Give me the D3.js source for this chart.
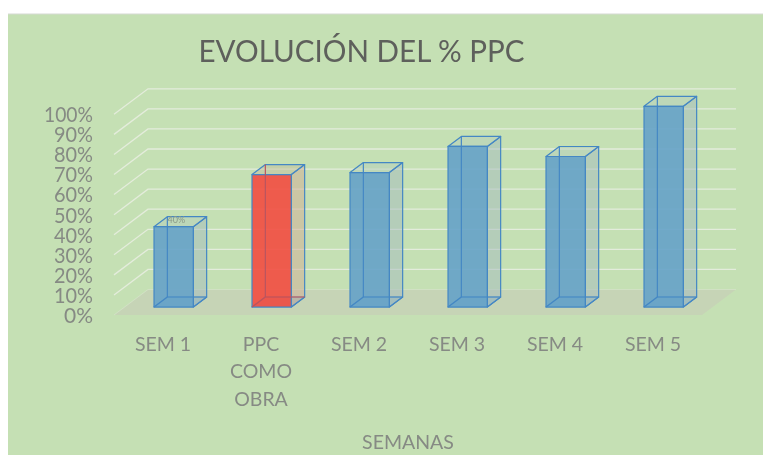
<!DOCTYPE html>
<html><head><meta charset="utf-8">
<script src="https://cdn.jsdelivr.net/npm/d3@7/dist/d3.min.js"></script>
<style>html,body{margin:0;padding:0;background:#fff}svg{display:block;filter:blur(0.35px)}text{font-family:Lato,"Noto Sans",sans-serif}</style>
</head><body><svg id="c" width="763" height="455"></svg>
<script>
const categories = [["SEM 1"],["PPC","COMO","OBRA"],["SEM 2"],["SEM 3"],["SEM 4"],["SEM 5"]];
const values = [0.40,0.66,0.67,0.80,0.75,1.00];
const highlighted = [false,true,false,false,false,false];
const yTicks = [0,0.1,0.2,0.3,0.4,0.5,0.6,0.7,0.8,0.9,1];
const dataLabels = ["40%",null,null,null,null,null];
const title = "EVOLUCIÓN DEL % PPC";
const xTitle = "SEMANAS";

const svg = d3.select("#c");
svg.append("rect").attr("x",8).attr("y",14).attr("width",755).attr("height",441).attr("fill","#C5E0B4");
svg.append("line").attr("x1",8).attr("x2",763).attr("y1",14).attr("y2",14).attr("stroke","#D5D9D2").attr("stroke-width",1);

const x = d3.scaleBand().domain(d3.range(categories.length)).range([114,702]);
const y = d3.scaleLinear().domain([0,1]).range([315,114.3]);
const D = {dx:34, dy:-25.5};                  // full floor depth
const barW = 39.3, f0 = 8/25.5, f1 = 18/25.5; // front/back plane of the boxes
const poly = p => p.map(q=>q.join(",")).join(" ");

// floor and gridlines
const g = svg.append("g");
g.append("polygon").attr("points",poly([[114,315],[702,315],[736,289.5],[148,289.5]])).attr("fill","#C6D4B6");
yTicks.forEach(t=>{
  g.append("polyline").attr("fill","none").attr("stroke","#E4ECDC").attr("stroke-width",t===0?0.8:1.3)
   .attr("opacity",t===0?0.5:1)
   .attr("points",poly([[114,y(t)],[114+D.dx,y(t)+D.dy],[736,y(t)+D.dy]]));
});

// bars
const stroke = "#4487C4";
values.forEach((v,i)=>{
  const left = x(i)+(x.bandwidth()-barW)/2;
  const P = (bx,val,f)=>[left+bx*barW+D.dx*f, y(val)+D.dy*f];
  const b = svg.append("g").attr("stroke",stroke).attr("stroke-width",1.2).attr("stroke-linejoin","round");
  const hot = highlighted[i];
  b.append("polygon").attr("points",poly([P(0,0,f0),P(1,0,f0),P(1,0,f1),P(0,0,f1)])).attr("fill","#5C9CC8").attr("fill-opacity",0.35);
  b.append("polygon").attr("points",poly([P(1,0,f0),P(1,0,f1),P(1,v,f1),P(1,v,f0)])).attr("fill",hot?"#D1AC94":"#A3BABE").attr("fill-opacity",0.5);
  b.append("polygon").attr("points",poly([P(0,v,f0),P(1,v,f0),P(1,v,f1),P(0,v,f1)])).attr("fill",hot?"#C3BE9C":"#B5CEBC").attr("fill-opacity",0.5);
  b.append("polygon").attr("points",poly([P(0,0,f0),P(1,0,f0),P(1,v,f0),P(0,v,f0)])).attr("fill",hot?"#F24C40":"#65A2C8").attr("fill-opacity",0.9);
  // hidden edges seen through the front face
  const hid = hot ? "#B9555F" : stroke;
  b.append("line").attr("stroke",hid).attr("x1",P(0,0,f1)[0]).attr("y1",P(0,0,f1)[1]).attr("x2",P(0,v,f1)[0]).attr("y2",P(0,v,f1)[1]);
  b.append("polyline").attr("fill","none").attr("stroke",hid).attr("points",poly([P(0,0,f0),P(0,0,f1),P(1,0,f1)]));
  if (dataLabels[i]) {
    const c = P(0.5,v,(f0+f1)/2);
    svg.append("text").attr("x",c[0]-4).attr("y",c[1]+1).attr("text-anchor","middle").attr("font-size",9)
       .attr("fill","#8A9A88").text(dataLabels[i]);
  }
});

// y axis through the library
const yAxis = d3.axisLeft(y).tickValues(yTicks).tickFormat(d3.format(".0%")).tickSize(0).tickPadding(0);
const ya = svg.append("g").attr("transform","translate(93,0)").call(yAxis);
ya.select(".domain").remove();
ya.selectAll("text").attr("font-size",20.5).attr("fill","#868A84").attr("dy","0.36em")
  .attr("textLength",d=>d===1?49:d===0?29:39).attr("lengthAdjust","spacingAndGlyphs")
  .style("font-family",'Lato,"Noto Sans",sans-serif');

// category labels
categories.forEach((lines,i)=>{
  lines.forEach((s,j)=>{
    svg.append("text").attr("x",x(i)+x.bandwidth()/2).attr("y",351+j*27.4).attr("text-anchor","middle")
      .attr("font-size",19.5).attr("fill","#868A84").text(s);
  });
});
svg.append("text").attr("x",408).attr("y",449).attr("text-anchor","middle").attr("font-size",19.5).attr("fill","#868A84").text(xTitle);
svg.append("text").attr("x",361.5).attr("y",61.5).attr("text-anchor","middle").attr("font-size",31.5).attr("fill","#5E605C")
  .attr("textLength",326).attr("lengthAdjust","spacingAndGlyphs").text(title);
</script></body></html>
